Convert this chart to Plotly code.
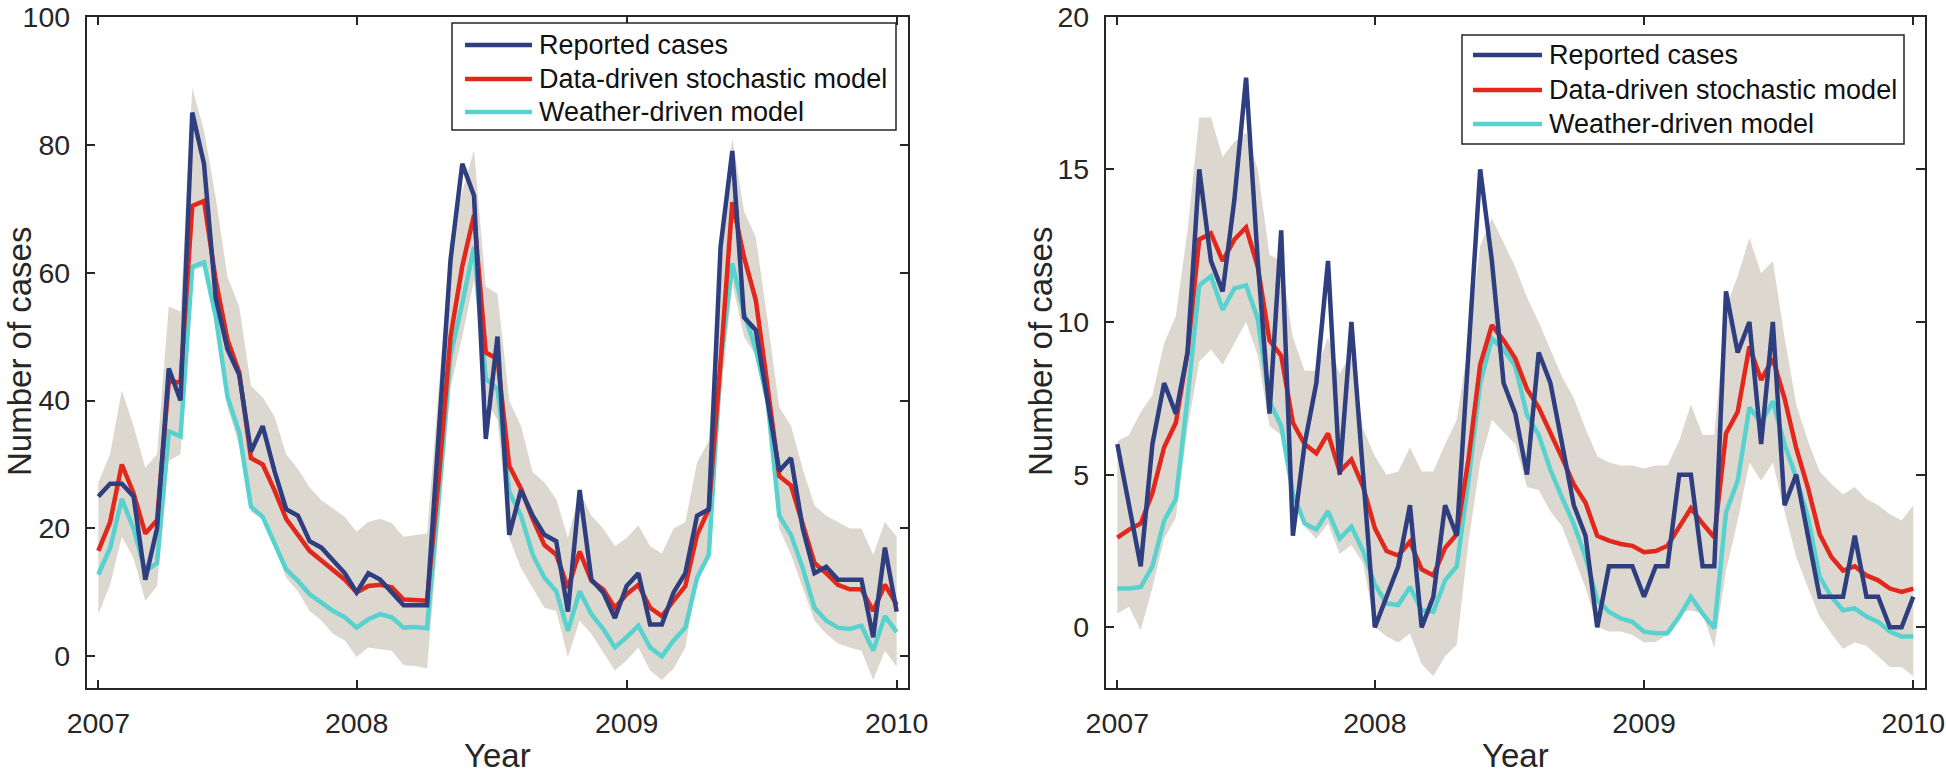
import plotly.graph_objects as go

# ---------------- data ----------------
year_labels = ["2007", "2008", "2009", "2010"]
year_tick_index = [0, 22, 45, 68]

# Left panel
reported_L = [25, 27, 27, 25, 12, 20, 45, 40, 85, 77, 56, 48, 44, 32, 36, 29, 23, 22, 18, 17,
              15, 13, 10, 13, 12, 10, 8, 8, 8, 35, 62, 77, 72, 34, 50, 19, 26, 22, 19, 18,
              7, 26, 12, 10, 6, 11, 13, 5, 5, 10, 13, 22, 23, 64, 79, 53, 51, 40, 29, 31,
              20, 13, 14, 12, 12, 12, 3, 17, 7]
stochastic_L = [16.5, 21, 30, 25.5, 19.2, 21.3, 43, 42.8, 70.4, 71.2, 58.8, 49.5, 44.4, 31, 30, 26, 21.5, 19, 16.5, 15,
                13.5, 12, 10, 11, 11.2, 10.8, 8.9, 8.8, 8.7, 28, 50, 61, 69, 47.5, 46.5, 29.8, 26.2, 21.5, 17.4, 15.9,
                10.7, 16.4, 11.8, 10.5, 7.6, 9.7, 11.2, 7.6, 6.3, 8.7, 11, 19, 23, 46, 71, 62.4, 55.7, 42.3, 28.2, 26.7,
                20.5, 14.6, 13, 11.2, 10.5, 10.5, 7.1, 11.2, 8.1]
weather_L = [12.8, 16.9, 24.6, 20, 13.3, 14.6, 35.2, 34.4, 60.9, 61.6, 53.1, 40.6, 35, 23.4, 21.8, 17.9, 13.6, 11.8, 9.7, 8.4,
             7.1, 6.1, 4.5, 5.8, 6.6, 6.1, 4.5, 4.6, 4.4, 25, 47, 55.2, 64, 43.4, 41.8, 25.7, 22, 15.9, 12.3, 10.2,
             4, 10.2, 6.6, 4.3, 1.4, 3, 4.8, 1.4, 0, 2.5, 4.5, 12.3, 15.9, 46, 61.4, 53.7, 48, 40, 22, 19,
             13.8, 7.6, 5.6, 4.5, 4.3, 4.8, 0.9, 6.3, 3.8]
upper_L = [27.2, 31.6, 41.6, 36, 29.5, 31.6, 54.7, 53.9, 88.9, 82.2, 71.7, 59.3, 54.7, 42.3, 40.5, 37.5, 31.6, 29.3, 26.4, 24.4,
           23.1, 21.8, 19.5, 21, 21.5, 20.8, 18.7, 19, 19.2, 42, 65, 72.7, 79.1, 57.8, 56.7, 40, 36, 28.8, 27.2, 24.6,
           18.5, 25.7, 22, 20, 17.2, 18.5, 20.5, 17.2, 16.1, 20, 21, 30.3, 33.7, 66, 81, 69.6, 65.5, 52.6, 39, 36,
           29.3, 23.6, 22, 21, 20, 20, 15.9, 21, 18.7]
lower_L = [6.6, 11.2, 18.7, 15.4, 8.7, 11, 30.6, 31.6, 60.3, 60.9, 54.2, 39, 33, 22.6, 21.5, 17.4, 12.3, 10.2, 7.1, 5.6,
           3.5, 2.5, -0.1, 1.4, 1.2, 0.9, -1.4, -1.5, -1.9, 20, 42, 50, 58.8, 40, 37, 18.5, 13.8, 10.7, 7.6, 7.1,
           -0.1, 5.6, 3.5, 0.7, -2.2, -0.6, 1.4, -2.2, -3.7, -1.9, 1.4, 12.3, 15.9, 40, 58.3, 50, 47, 38, 20, 15.9,
           10.7, 5.6, 3.5, 2, 1.4, 0.9, -3.7, 0.9, -1.6]

# Right panel
reported_R = [6, 4, 2, 6, 8, 7, 9, 15, 12, 11, 14, 18, 12, 7, 13, 3, 6, 8, 12, 5,
              10, 5, 0, 1, 2, 4, 0, 1, 4, 3, 9, 15, 12, 8, 7, 5, 9, 8, 6, 4,
              3, 0, 2, 2, 2, 1, 2, 2, 5, 5, 2, 2, 11, 9, 10, 6, 10, 4, 5, 3,
              1, 1, 1, 3, 1, 1, 0, 0, 1]
stochastic_R = [2.94, 3.2, 3.4, 4.4, 5.9, 6.7, 9, 12.7, 12.9, 12.0, 12.7, 13.1, 11.8, 9.4, 8.9, 6.7, 6.0, 5.7, 6.35, 5.1,
                5.5, 4.6, 3.25, 2.5, 2.35, 2.8, 1.9, 1.7, 2.6, 3.05, 5.5, 8.6, 9.9, 9.4, 8.8, 7.8, 7.2, 6.4, 5.54, 4.68,
                4.08, 3.0, 2.84, 2.73, 2.67, 2.46, 2.5, 2.67, 3.27, 3.9, 3.4, 2.94, 6.35, 7.06, 9.2, 8.1, 8.8, 7.5, 5.87, 4.57,
                3.05, 2.3, 1.86, 2.0, 1.7, 1.54, 1.27, 1.16, 1.27]
weather_R = [1.27, 1.27, 1.32, 2.0, 3.5, 4.2, 7.5, 11.2, 11.5, 10.4, 11.1, 11.2, 10.1, 7.4, 6.6, 4.4, 3.4, 3.2, 3.8, 2.9,
             3.3, 2.5, 1.4, 0.78, 0.73, 1.32, 0.56, 0.51, 1.54, 2.0, 4.8, 8.0, 9.45, 9.1, 8.55, 6.95, 6.3, 5.16, 4.24, 3.38,
             2.3, 0.89, 0.51, 0.29, 0.18, -0.14, -0.19, -0.19, 0.35, 1.0, 0.45, -0.03, 3.76, 4.8, 7.2, 6.7, 7.4, 6.0, 4.9, 3.6,
             1.65, 1.0, 0.56, 0.62, 0.35, 0.18, -0.14, -0.3, -0.3]
upper_R = [6.1, 6.3, 7.05, 7.6, 9.3, 10.2, 13.0, 16.7, 16.7, 15.4, 15.9, 16.2, 15.0, 12.2, 12.0, 9.5, 8.4, 8.4, 9.5, 8.3,
           9.0, 6.5, 5.6, 5.0, 5.1, 5.9, 5.1, 5.1, 6.0, 6.8, 9.3, 12.5, 13.4, 12.6, 11.8, 10.8, 10.0, 9.1, 8.2, 7.5,
           6.5, 5.6, 5.4, 5.3, 5.3, 5.2, 5.3, 5.3, 6.1, 7.3, 6.3, 6.3, 10.5, 11.5, 12.75, 11.6, 12.0, 9.5, 7.3, 6.1,
           5.1, 4.7, 4.35, 4.6, 4.2, 4.0, 3.7, 3.5, 4.0]
lower_R = [0.45, 0.67, -0.09, 1.3, 2.9, 3.6, 6.5, 8.7, 9.1, 8.6, 9.3, 10.0, 8.9, 6.6, 6.3, 4.7, 3.3, 2.9, 3.4, 2.4,
           2.7, 2.1, 0.02, -0.3, -0.5, -0.2, -1.2, -1.6, -0.95, -0.57, 2.8, 5.4, 6.8, 6.4, 6.0, 4.6, 4.5, 3.8, 3.3, 2.3,
           1.3, 0.02, -0.14, -0.14, -0.25, -0.5, -0.47, -0.25, 0.45, 0.56, 0.45, -0.68, 1.86, 3.5, 5.4, 4.8, 5.4, 3.8, 2.3, 1.3,
           0.35, -0.2, -0.7, -0.5, -0.6, -0.95, -1.3, -1.3, -1.6]

series_names = ["Reported cases", "Data-driven stochastic model", "Weather-driven model"]

# ---------------- style ----------------
W, H = 1946, 774
BLUE = "#2e3e7e"
RED = "#e2281c"
CYAN = "#57d2ce"
BAND = "#dcd7cf"
AXC = "#262626"
FONT = "Liberation Sans, Arial, Helvetica, sans-serif"
LW = 4.5

idx = list(range(len(reported_L)))

fig = go.Figure()


def add_panel(xa, ya, rep, sto, wea, up, lo):
    fig.add_trace(go.Scatter(x=idx + idx[::-1], y=up + lo[::-1], fill="toself", fillcolor=BAND,
                             line=dict(width=0, color=BAND), mode="lines", hoverinfo="skip",
                             showlegend=False, xaxis=xa, yaxis=ya))
    fig.add_trace(go.Scatter(x=idx, y=wea, mode="lines", line=dict(color=CYAN, width=LW),
                             name=series_names[2], showlegend=False, xaxis=xa, yaxis=ya))
    fig.add_trace(go.Scatter(x=idx, y=sto, mode="lines", line=dict(color=RED, width=LW),
                             name=series_names[1], showlegend=False, xaxis=xa, yaxis=ya))
    fig.add_trace(go.Scatter(x=idx, y=rep, mode="lines", line=dict(color=BLUE, width=LW),
                             name=series_names[0], showlegend=False, xaxis=xa, yaxis=ya))


add_panel("x", "y", reported_L, stochastic_L, weather_L, upper_L, lower_L)
add_panel("x2", "y2", reported_R, stochastic_R, weather_R, upper_R, lower_R)

common = dict(showline=True, linecolor=AXC, linewidth=1.5, mirror="ticks", ticks="inside",
              ticklen=9, tickwidth=1.5, tickcolor=AXC, showgrid=False, zeroline=False,
              tickfont=dict(family=FONT, size=28.5, color=AXC), fixedrange=True, automargin=False,
              ticklabeloverflow="allow")


def px(x):
    return x / W


def py(y):
    return 1 - y / H


TOP = 16.5
BOTTOM = 688.4

fig.update_layout(
    width=W, height=H,
    margin=dict(l=0, r=0, t=0, b=0, pad=0),
    paper_bgcolor="white", plot_bgcolor="white",
    showlegend=False,
    xaxis=dict(domain=[px(86.6), px(908.4)], range=[-1, 69], tickvals=year_tick_index,
               ticktext=year_labels, anchor="y", ticklabelstandoff=9, **common),
    yaxis=dict(domain=[py(BOTTOM), py(TOP)], range=[-5, 100.02], tickvals=[0, 20, 40, 60, 80, 100],
               anchor="x", ticklabelstandoff=9, **common),
    xaxis2=dict(domain=[px(1105.6), px(1925.0)], range=[-1, 69], tickvals=year_tick_index,
                ticktext=year_labels, anchor="y2", ticklabelstandoff=9, **common),
    yaxis2=dict(domain=[py(BOTTOM), py(TOP)], range=[-2, 20.005], tickvals=[0, 5, 10, 15, 20],
                anchor="x2", ticklabelstandoff=9, **common),
)

# axis titles
title_font = dict(family=FONT, size=33, color=AXC)
for xc in (497.5, 1515.3):
    fig.add_annotation(x=px(xc), y=py(755), xref="paper", yref="paper", text="Year",
                       showarrow=False, font=title_font, xanchor="center", yanchor="middle")
for xc in (19, 1040):
    fig.add_annotation(x=px(xc), y=py(352), xref="paper", yref="paper", text="Number of cases",
                       showarrow=False, font=title_font, textangle=-90,
                       xanchor="center", yanchor="middle")

# legends (drawn as boxes with line samples and text)
leg_font = dict(family=FONT, size=27, color="#111111")
colors = [BLUE, RED, CYAN]
legends = [
    dict(box=(452, 23, 896, 130), x0=465, x1=532, tx=537, rows=(45, 79, 112)),
    dict(box=(1462, 35, 1904, 144), x0=1473, x1=1542, tx=1547, rows=(55, 90, 124)),
]
for lg in legends:
    bx0, by0, bx1, by1 = lg["box"]
    fig.add_shape(type="rect", xref="paper", yref="paper", x0=px(bx0), x1=px(bx1),
                  y0=py(by1), y1=py(by0), line=dict(color=AXC, width=1.5), fillcolor="white")
    for name, col, ry in zip(series_names, colors, lg["rows"]):
        fig.add_shape(type="line", xref="paper", yref="paper", x0=px(lg["x0"]), x1=px(lg["x1"]),
                      y0=py(ry), y1=py(ry), line=dict(color=col, width=LW))
        fig.add_annotation(x=px(lg["tx"]), y=py(ry), xref="paper", yref="paper", text=name,
                           showarrow=False, font=leg_font, xanchor="left", yanchor="middle")

fig.write_html("out.html", config={"displayModeBar": False},
               post_script="document.body.style.margin='0px';document.body.style.padding='0px';")
